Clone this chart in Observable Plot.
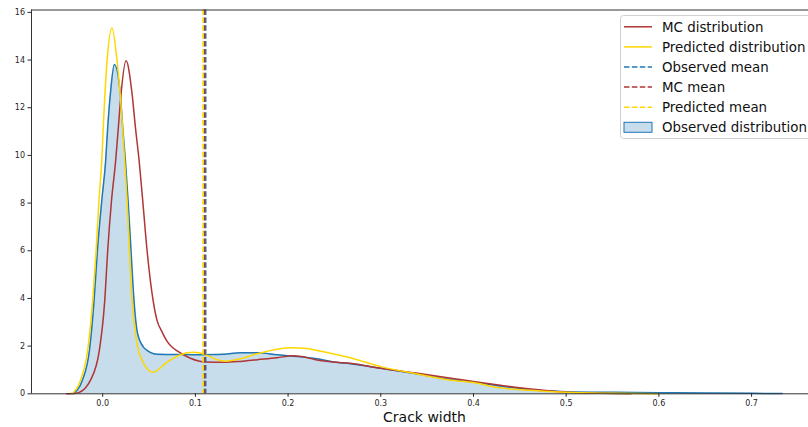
<!DOCTYPE html>
<html>
<head>
<meta charset="utf-8">
<script src="https://cdn.jsdelivr.net/npm/d3@7"></script>
<script src="https://cdn.jsdelivr.net/npm/@observablehq/plot@0.6"></script>
<style>
  html, body { margin: 0; padding: 0; background: white; }
  #chart { width: 808px; height: 427px; overflow: hidden; }
</style>
</head>
<body>
<div id="chart"></div>
<script>
// Observed distribution (KDE, blue)
const obsX = [-0.032, -0.022, -0.0143, -0.0093, -0.0057, -0.001, 0.0032, 0.0054, 0.0083, 0.0126, 0.019, 0.0216, 0.0245, 0.0274, 0.0306, 0.0338, 0.0377, 0.0442, 0.0479, 0.055, 0.0587, 0.08, 0.1, 0.12, 0.131, 0.1485, 0.167, 0.188, 0.202, 0.231, 0.249, 0.267, 0.3, 0.338, 0.374, 0.4, 0.428, 0.465, 0.5, 0.55, 0.6, 0.65, 0.7, 0.733];
const obsY = [0, 0.56, 1.82, 3.91, 6.0, 8.1, 9.78, 11.18, 12.58, 13.81, 12.58, 11.18, 9.78, 8.1, 6.0, 3.91, 2.52, 1.95, 1.82, 1.68, 1.66, 1.65, 1.64, 1.65, 1.66, 1.72, 1.72, 1.64, 1.59, 1.47, 1.33, 1.26, 1.07, 0.84, 0.61, 0.49, 0.33, 0.16, 0.09, 0.06, 0.045, 0.03, 0.02, 0.01];

// MC distribution (red)
const mcX = [-0.039, -0.033, -0.026, -0.0133, -0.0036, 0.0022, 0.0054, 0.0095, 0.014, 0.0169, 0.0198, 0.0252, 0.0317, 0.0353, 0.0393, 0.0432, 0.0479, 0.0544, 0.0587, 0.064, 0.0695, 0.075, 0.0803, 0.0946, 0.111, 0.131, 0.1485, 0.167, 0.188, 0.205, 0.215, 0.231, 0.249, 0.267, 0.3, 0.338, 0.374, 0.4, 0.429, 0.465, 0.5, 0.537, 0.57];
const mcY = [0, 0.01, 0.05, 0.56, 1.82, 3.91, 6.0, 8.1, 9.78, 11.18, 12.58, 13.97, 12.58, 11.18, 9.78, 8.1, 6.0, 3.91, 3.07, 2.6, 2.2, 1.95, 1.8, 1.49, 1.33, 1.32, 1.36, 1.43, 1.51, 1.6, 1.56, 1.42, 1.33, 1.28, 1.07, 0.87, 0.66, 0.52, 0.36, 0.19, 0.07, 0.02, 0.005];

// Predicted distribution (yellow)
const predX = [-0.033, -0.024, -0.0162, -0.0108, -0.0071, -0.004, -0.001, 0.0015, 0.0047, 0.0101, 0.0155, 0.0202, 0.0237, 0.0263, 0.0288, 0.0317, 0.0364, 0.0425, 0.0543, 0.0695, 0.0838, 0.098, 0.1108, 0.1234, 0.1324, 0.1485, 0.1666, 0.188, 0.205, 0.22, 0.231, 0.267, 0.3, 0.338, 0.374, 0.4, 0.428, 0.465, 0.5, 0.55, 0.6];
const predY = [0, 0.56, 1.82, 3.91, 6.0, 8.1, 9.78, 11.88, 13.97, 15.35, 13.97, 11.88, 9.78, 8.1, 6.0, 3.91, 2.24, 1.4, 0.9, 1.33, 1.64, 1.74, 1.64, 1.43, 1.37, 1.47, 1.68, 1.87, 1.93, 1.9, 1.82, 1.51, 1.14, 0.84, 0.58, 0.47, 0.25, 0.14, 0.06, 0.02, 0.0];

// Means
const obsMean = 0.1111;
const mcMean = 0.1097;
const predMean = 0.1083;

// Axes
const xDomain = [-0.0768, 0.7614];
const yDomain = [0, 16.1];
const xTicks = [0.0, 0.1, 0.2, 0.3, 0.4, 0.5, 0.6, 0.7];
const yTicks = [0, 2, 4, 6, 8, 10, 12, 14, 16];
const xLabel = "Crack width";

// Legend
const legendLabels = ["MC distribution", "Predicted distribution", "Observed mean", "MC mean", "Predicted mean", "Observed distribution"];
const legendKinds = ["line", "line", "dash", "dash", "dash", "patch"];

const BLUE = "#1f77b4", RED = "#b03535", GOLD = "#ffd700";
const legendColors = [RED, GOLD, BLUE, RED, GOLD, BLUE];
const DASH = "5.5,2.4";

const zip = (xs, ys) => xs.map((x, i) => ({x, y: ys[i]}));
const obs = zip(obsX, obsY), mc = zip(mcX, mcY), pred = zip(predX, predY);
const curve = "monotone-x";

const plot = Plot.plot({
  width: 808, height: 427,
  marginLeft: 31, marginRight: 0, marginTop: 9.5, marginBottom: 33.7,
  x: {domain: xDomain},
  y: {domain: yDomain},
  style: {fontFamily: "DejaVu Sans", fontSize: "8px", color: "#262626", background: "white", overflow: "visible"},
  marks: [
    Plot.areaY(obs, {x: "x", y: "y", fill: BLUE, fillOpacity: 0.25, curve}),
    Plot.line(obs, {x: "x", y: "y", stroke: BLUE, strokeWidth: 1.5, curve}),
    Plot.line(mc, {x: "x", y: "y", stroke: RED, strokeWidth: 1.5, curve}),
    Plot.line(pred, {x: "x", y: "y", stroke: GOLD, strokeWidth: 1.5, curve}),
    Plot.ruleX([obsMean], {stroke: BLUE, strokeWidth: 1.6, strokeDasharray: DASH}),
    Plot.ruleX([mcMean], {stroke: RED, strokeWidth: 1.6, strokeDasharray: DASH}),
    Plot.ruleX([predMean], {stroke: GOLD, strokeWidth: 1.6, strokeDasharray: DASH}),
    Plot.ruleY([yDomain[0]], {stroke: "#333", strokeWidth: 1}),
    Plot.ruleY([yDomain[1]], {stroke: "#333", strokeWidth: 1}),
    Plot.ruleX([xDomain[0]], {stroke: "#333", strokeWidth: 1}),
    Plot.axisX({ticks: xTicks, tickFormat: d => d.toFixed(1), tickSize: 3.5, tickPadding: 3, label: null}),
    Plot.axisY({ticks: yTicks, tickFormat: d => String(d), tickSize: 3.5, tickPadding: 3, label: null}),
    Plot.text([xLabel], {frameAnchor: "bottom", dx: 4.5, dy: 28, fontSize: 14, fill: "#111"})
  ]
});

document.getElementById("chart").appendChild(plot);

// Legend drawn inside the SVG
const svg = d3.select(plot);
const lg = svg.append("g").attr("font-family", "DejaVu Sans").attr("text-anchor", "start");
lg.append("rect")
  .attr("x", 620.5).attr("y", 15.5).attr("width", 200).attr("height", 123)
  .attr("rx", 3).attr("fill", "white").attr("fill-opacity", 0.8)
  .attr("stroke", "#d0d0d0").attr("stroke-width", 1);
legendLabels.forEach((label, i) => {
  const cy = 26.8 + 20.1 * i;
  const kind = legendKinds[i], color = legendColors[i];
  if (kind === "patch") {
    lg.append("rect").attr("x", 624).attr("y", cy - 5).attr("width", 28).attr("height", 10)
      .attr("fill", color).attr("fill-opacity", 0.25).attr("stroke", color).attr("stroke-width", 1);
  } else {
    lg.append("line").attr("x1", 624).attr("x2", 652).attr("y1", cy).attr("y2", cy)
      .attr("stroke", color).attr("stroke-width", 1.5)
      .attr("stroke-dasharray", kind === "dash" ? DASH : null);
  }
  lg.append("text").attr("x", 662).attr("y", cy).attr("dy", "0.38em")
    .attr("text-anchor", "start")
    .attr("font-size", 13.4).attr("fill", "#111").text(label);
});
</script>
</body>
</html>
